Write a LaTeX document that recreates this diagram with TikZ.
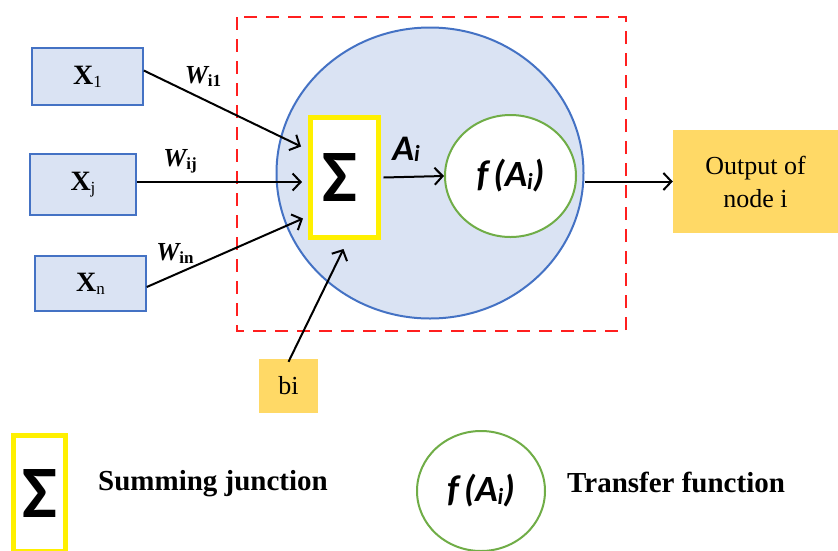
\documentclass[tikz,border=0pt]{standalone}
\usepackage{fontspec}
\setmainfont{Liberation Serif}
\newfontfamily\calib{Carlito}
\usetikzlibrary{arrows.meta,shapes.geometric}
\definecolor{lblue}{HTML}{DAE3F3}
\definecolor{bblue}{HTML}{4472C4}
\definecolor{goldc}{HTML}{FFD966}
\definecolor{ygreen}{HTML}{70AD47}
\definecolor{sumyellow}{HTML}{FFF000}
\definecolor{dred}{HTML}{FF1F1F}
\begin{document}
\begin{tikzpicture}[x=1pt,y=-1pt,
  inbox/.style={draw=bblue, fill=lblue, line width=1.5pt, inner sep=0pt,
    font=\fontsize{28}{28}\selectfont\bfseries},
  arr/.style={-{Straight Barb[length=8pt,width=17pt]}, line width=2pt},
  wlab/.style={inner sep=0pt, font=\fontsize{26}{26}\selectfont\bfseries\itshape},
  goldbox/.style={fill=goldc, inner sep=0pt, align=center,
    font=\fontsize{26}{33}\selectfont},
  sumbox/.style={draw=sumyellow, fill=white, line width=5pt, inner sep=0pt,
    font=\calib\bfseries\fontsize{74}{74}\selectfont},
  fcirc/.style={ellipse, draw=ygreen, fill=white, line width=2pt, inner sep=0pt,
    font=\calib\bfseries\itshape\fontsize{37}{37}\selectfont},
  bigcirc/.style={ellipse, draw=bblue, fill=lblue, line width=2pt, inner sep=0pt},
  legtext/.style={anchor=west, inner sep=0pt, font=\fontsize{29}{29}\selectfont\bfseries}
]
\useasboundingbox (0,0) rectangle (838,550);
\newcommand{\subsc}[1]{\raisebox{-3pt}{\fontsize{17}{17}\selectfont #1}}
\newcommand{\fai}{f\hspace{5pt}(A\raisebox{-3pt}{\fontsize{23}{23}\selectfont i})}

% dashed frame
\draw[dred, line width=2pt, dash pattern=on 13pt off 9pt] (237,17) rectangle (626,331);

% big neuron circle
\node[bigcirc, minimum width=307pt, minimum height=291pt] (big) at (430,173) {};

% input boxes
\node[inbox, minimum width=111pt, minimum height=57pt] (x1) at (87.5,76.5) {X\subsc{\mdseries 1}};
\node[inbox, minimum width=106pt, minimum height=61pt] (xj) at (83,184.5) {X\subsc{\mdseries j}};
\node[inbox, minimum width=111pt, minimum height=55pt] (xn) at (90.5,283.5) {X\subsc{\mdseries n}};

% summing junction and transfer function
\node[sumbox, minimum width=68pt, minimum height=120pt] (sum) at (344.5,177.5) {\raisebox{-9pt}{\hspace*{-10pt}Σ}};
\node[fcirc, minimum width=131pt, minimum height=122pt] (f) at (510.5,176) {\raisebox{-3pt}{\fai}};

% output and bias
\node[goldbox, minimum width=165pt, minimum height=103pt] (out) at (755.5,181.5) {Output of\\node i};
\node[goldbox, minimum width=59pt, minimum height=54pt] (bi) at (288.5,386) {bi};

% weight labels
\node[wlab] (w1) at (203,76) {W\subsc{\upshape i1}};
\node[wlab] (wj) at (180,161) {W\subsc{\upshape ij}};
\node[wlab] (wn) at (175,253) {W\subsc{\upshape in}};
\node[inner sep=0pt, font=\calib\bfseries\itshape\fontsize{36}{36}\selectfont] (ai) at (406,149) {A\raisebox{-1pt}{\fontsize{23}{23}\selectfont i}};

% connectors
\draw[arr] ([yshift=6pt]x1.east) -- ([shift={(-7,-31)}]sum.west);
\draw[arr] ([yshift=2.5pt]xj.east) -- ([shift={(-6,4.5)}]sum.west);
\draw[arr] ([yshift=-3.5pt]xn.east) -- ([shift={(-5,41)}]sum.west);
\draw[arr] ([yshift=-3pt]bi.north) -- ([shift={(-1,9)}]sum.south);
\draw[arr] ([xshift=2.5pt]sum.east) -- (f.west);
\draw[arr] (big.east |- out.west) -- (out.west);

% legend
\node[sumbox, minimum width=52pt, minimum height=116pt] (legsum) at (39.5,493) {\raisebox{-6pt}{Σ}};
\node[legtext] (legsumtxt) at (98,484) {Summing junction};
\node[fcirc, minimum width=128pt, minimum height=120pt] (legf) at (481,491) {\raisebox{-3pt}{\fai}};
\node[legtext] (legftxt) at (567,482) {Transfer function};
\end{tikzpicture}
\end{document}
